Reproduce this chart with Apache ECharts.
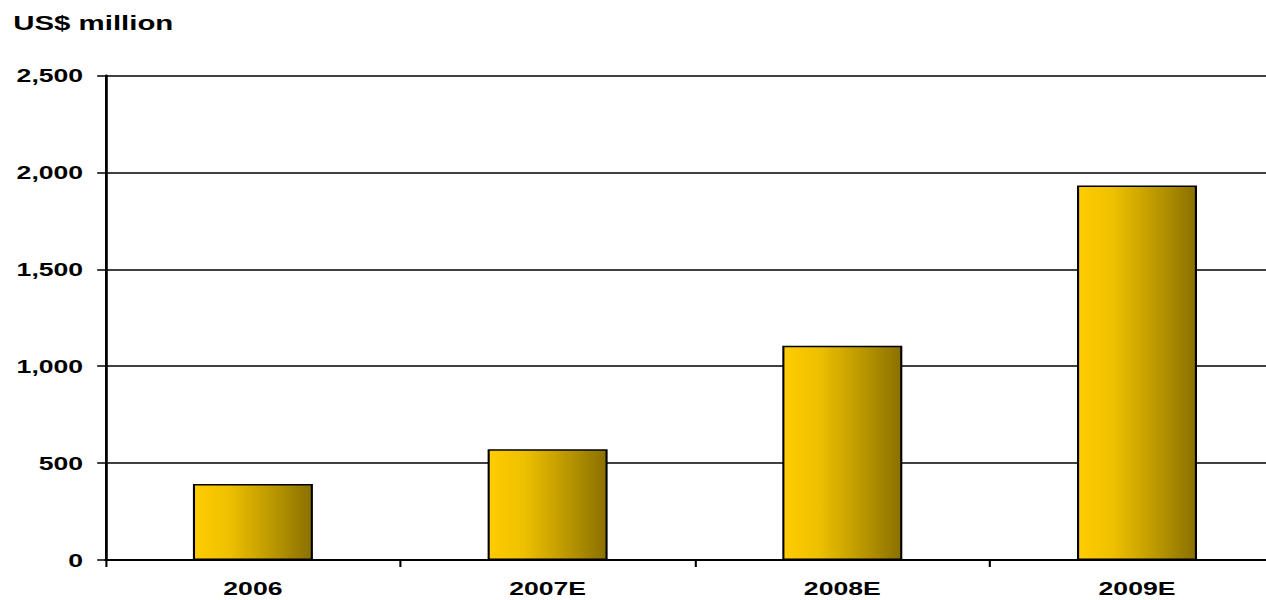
<!DOCTYPE html>
<html>
<head>
<meta charset="utf-8">
<script src="https://cdn.jsdelivr.net/npm/echarts@6/dist/echarts.min.js"></script>
<style>
  html, body { margin: 0; padding: 0; background: #ffffff; overflow: hidden; width: 1266px; height: 600px; }
  /* the chart is laid out narrow and widened horizontally */
  #chart { width: 930px; height: 600px; transform: scaleX(1.4); transform-origin: 0 0; }
</style>
</head>
<body>
<div id="chart"></div>
<script>
// Annual values, US$ million
const categories = ['2006', '2007E', '2008E', '2009E'];
const values = [392, 571, 1105, 1933];
const yTicks = { min: 0, max: 2500, interval: 500 };
const unitTitle = 'US$ million';

const FONT = '"Liberation Sans", Arial, Helvetica, sans-serif';
const chart = echarts.init(document.getElementById('chart'), null, { renderer: 'svg' });

chart.setOption({
  backgroundColor: '#ffffff',
  animation: false,
  title: {
    text: unitTitle,
    left: 9.5,
    top: 12,
    padding: 0,
    textStyle: { fontFamily: FONT, fontSize: 21, fontWeight: 'bold', color: '#000000' }
  },
  grid: { left: 75.4, top: 75.5, width: 842, height: 484.5, containLabel: false },
  xAxis: {
    type: 'category',
    data: categories,
    boundaryGap: true,
    axisLine: { show: true, lineStyle: { color: '#000000', width: 2 } },
    axisTick: { show: true, length: 7, lineStyle: { color: '#000000', width: 1.5 } },
    axisLabel: { margin: 19, fontFamily: FONT, fontSize: 19, fontWeight: 'bold', color: '#000000' },
    splitLine: { show: false }
  },
  yAxis: {
    type: 'value',
    min: yTicks.min,
    max: yTicks.max,
    interval: yTicks.interval,
    axisLine: { show: true, lineStyle: { color: '#000000', width: 2 } },
    axisTick: { show: true, length: 6, lineStyle: { color: '#000000', width: 1.5 } },
    axisLabel: {
      margin: 16,
      fontFamily: FONT, fontSize: 19, fontWeight: 'bold', color: '#000000',
      formatter: v => v.toLocaleString('en-US')
    },
    splitLine: { show: true, lineStyle: { color: '#000000', width: 1.5 } }
  },
  series: [{
    type: 'bar',
    data: values,
    barWidth: 85.7,
    itemStyle: {
      borderColor: '#000000',
      borderWidth: 1.5,
      color: new echarts.graphic.LinearGradient(0, 0, 1, 0, [
        { offset: 0, color: '#FFCC00' },
        { offset: 0.3, color: '#EEC000' },
        { offset: 0.6, color: '#C49F00' },
        { offset: 1, color: '#8A7000' }
      ])
    }
  }]
});
</script>
</body>
</html>
